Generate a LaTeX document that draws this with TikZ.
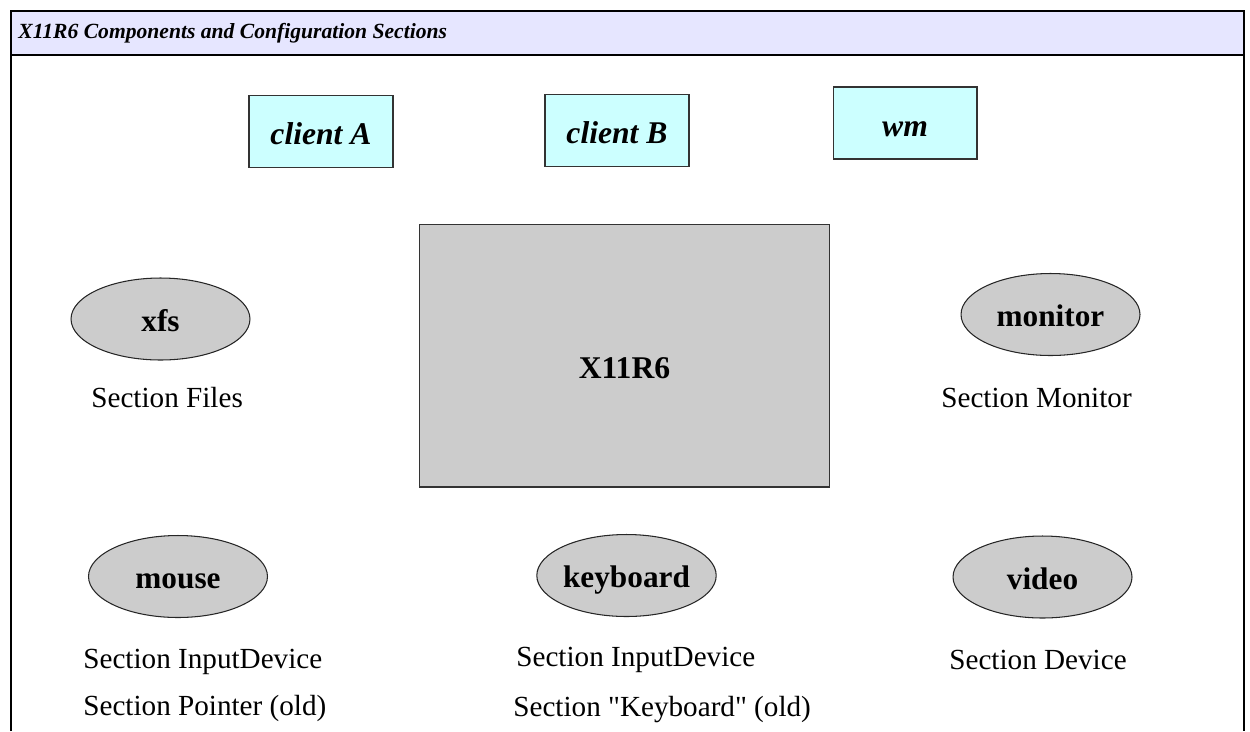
\documentclass[tikz,border=0pt]{standalone}
\usepackage{fontspec}
\setmainfont{Liberation Serif}
\newfontfamily\plainquotes{Liberation Serif}
\usetikzlibrary{shapes.geometric}

\begin{document}
\begin{tikzpicture}[x=0.02cm, y=-0.02cm,
		frame/.style={line width=0.7pt, draw=black},
		client/.style={rectangle, draw=black!80, fill=clientcol, line width=0.6pt, minimum width=2.88cm, minimum height=1.44cm, inner sep=0pt, text height=15pt, text depth=0pt, font=\fontsize{18}{20}\selectfont\bfseries\itshape},
		part/.style={ellipse, draw=black!85, fill=partcol, line width=0.6pt, minimum width=3.58cm, minimum height=1.64cm, inner sep=0pt, text height=14pt, text depth=0pt, font=\fontsize{17.8}{20}\selectfont\bfseries},
		sect/.style={anchor=west, inner sep=0pt, font=\fontsize{16.6}{19}\selectfont}
		]
		
		% ==========================================
		% COLOR PALETTE
		% ==========================================
		\definecolor{headcol}{HTML}{E6E6FF}
		\definecolor{clientcol}{HTML}{CCFFFF}
		\definecolor{partcol}{HTML}{CCCCCC}
		
		\useasboundingbox (0,0) rectangle (1250,731);
		
		% ==========================================
		% FRAME AND TITLE BAR
		% ==========================================
		\fill[headcol] (11,11) rectangle (1244,55);
		\draw[frame] (11,731) -- (11,11) -- (1244,11) -- (1244,731);
		\draw[frame] (11,55) -- (1244,55);
		\node[anchor=west, inner sep=0pt, font=\fontsize{12.3}{14}\selectfont\bfseries\itshape] (title) at (18,33) {X11R6 Components and Configuration Sections};
		
		% ==========================================
		% CLIENTS (top row)
		% ==========================================
		\node[client] (clientA) at (321,131.5) {client A};
		\node[client] (clientB) at (617,130.5) {client B};
		\node[client] (wm) at (905,123) {wm};
		
		% ==========================================
		% SERVER
		% ==========================================
		\node[rectangle, draw=black!80, fill=partcol, line width=0.6pt, minimum width=8.22cm, minimum height=5.26cm] (x11) at (624.5,355.5) {};
		\node[font=\fontsize{18}{20}\selectfont\bfseries] (x11lbl) at (624.5,368) {X11R6};
		
		% ==========================================
		% CONFIGURED PARTS AND THEIR SECTIONS
		% ==========================================
		\node[part] (xfs) at (160.5,319) {xfs};
		\node[part] (monitor) at (1050.5,314.5) {monitor};
		\node[part] (mouse) at (178,576.5) {mouse};
		\node[part] (keyboard) at (626.5,575.5) {keyboard};
		\node[part] (video) at (1042.5,577) {video};
		
		\node[sect] (secFiles) at (91,398) {Section Files};
		\node[sect] (secMonitor) at (941,398) {Section Monitor};
		\node[sect] (secMouse) at (83,662) {Section InputDevice};
		\node[sect] (secPointer) at (83,708) {Section Pointer (old)};
		\node[sect] (secKbd) at (516,660) {Section InputDevice};
		\node[sect] (secKbdOld) at (513,710) {\plainquotes Section "Keyboard" (old)};
		\node[sect] (secDevice) at (949,660) {Section Device};
		
	\end{tikzpicture}
\end{document}
